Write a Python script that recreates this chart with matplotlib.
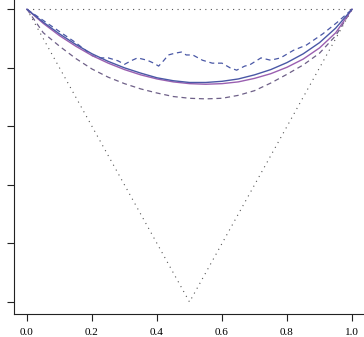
import matplotlib
matplotlib.use("Agg")
import matplotlib.pyplot as plt
import numpy as np

# grid for the smooth curves
t = [0.0, 0.05, 0.1, 0.15, 0.2, 0.25, 0.3, 0.35, 0.4, 0.45, 0.5,
     0.55, 0.6, 0.65, 0.7, 0.75, 0.8, 0.85, 0.9, 0.95, 1.0]

blue_solid = [1.0, 0.978, 0.958, 0.940, 0.924, 0.911, 0.900, 0.891, 0.883,
              0.878, 0.875, 0.875, 0.877, 0.881, 0.888, 0.897, 0.909, 0.924,
              0.943, 0.968, 1.0]
purple_solid = [1.0, 0.976, 0.955, 0.937, 0.921, 0.908, 0.897, 0.888, 0.881,
                0.876, 0.873, 0.872, 0.873, 0.876, 0.882, 0.890, 0.901, 0.915,
                0.934, 0.960, 1.0]
purple_dashed = [1.0, 0.960, 0.937, 0.916, 0.898, 0.884, 0.873, 0.864, 0.857,
                 0.851, 0.848, 0.847, 0.848, 0.853, 0.861, 0.874, 0.889, 0.905,
                 0.925, 0.955, 1.0]

# empirical (wiggly) estimate
wavy_t = [0.0, 0.05, 0.1, 0.15, 0.18, 0.2, 0.22, 0.25, 0.28, 0.30, 0.32,
          0.34, 0.37, 0.39, 0.405, 0.42, 0.435, 0.455, 0.475, 0.49, 0.51,
          0.54, 0.57, 0.60, 0.625, 0.645, 0.67, 0.685, 0.72, 0.75, 0.78,
          0.82, 0.86, 0.91, 0.955, 1.0]
wavy_a = [1.0, 0.981, 0.962, 0.943, 0.930, 0.921, 0.917, 0.917, 0.912, 0.906,
          0.912, 0.917, 0.913, 0.908, 0.903, 0.912, 0.922, 0.925, 0.927, 0.922,
          0.922, 0.913, 0.908, 0.908, 0.900, 0.896, 0.903, 0.905, 0.917, 0.913,
          0.917, 0.930, 0.939, 0.958, 0.978, 1.0]

# bounds max(t, 1-t) <= A(t) <= 1
bound_t = [0.0, 0.5, 1.0]
bound_a = [1.0, 0.5, 1.0]
top_t = [0.0, 1.0]
top_a = [1.0, 1.0]

xticks = [0.0, 0.2, 0.4, 0.6, 0.8, 1.0]
yticks = [0.5, 0.6, 0.7, 0.8, 0.9, 1.0]

blue = "#4a58a6"
purple = "#9a5fb0"
grey_purple = "#6e6088"

fig = plt.figure(figsize=(3.64, 3.37), dpi=100)
ax = fig.add_axes([14 / 364, 23.3 / 337, 351 / 364, 316.1 / 337])

dot = (0, (1, 4))
dash = (0, (4, 3))
ax.plot(bound_t, bound_a, color="#555555", lw=0.8, linestyle=dot)
ax.plot(top_t, top_a, color="#555555", lw=0.8, linestyle=dot)
ax.plot(t, purple_dashed, color=grey_purple, lw=0.9, linestyle=dash)
ax.plot(wavy_t, wavy_a, color=blue, lw=0.9, linestyle=dash)
ax.plot(t, purple_solid, color=purple, lw=1.0)
ax.plot(t, blue_solid, color=blue, lw=1.0)

ax.set_xlim(-0.04, 1.04)
ax.set_ylim(0.48, 1.02)
ax.set_xticks(xticks)
ax.set_xticklabels(["%.1f" % v for v in xticks])
ax.set_yticks(yticks)
ax.tick_params(labelleft=False, length=5, width=0.8, color="#222222",
               labelsize=8, pad=5)
for lab in ax.get_xticklabels():
    lab.set_family("Liberation Serif")

for side in ["top", "right"]:
    ax.spines[side].set_visible(False)
for side in ["left", "bottom"]:
    ax.spines[side].set_linewidth(0.8)
    ax.spines[side].set_color("#222222")

fig.savefig("out.png", dpi=100)
